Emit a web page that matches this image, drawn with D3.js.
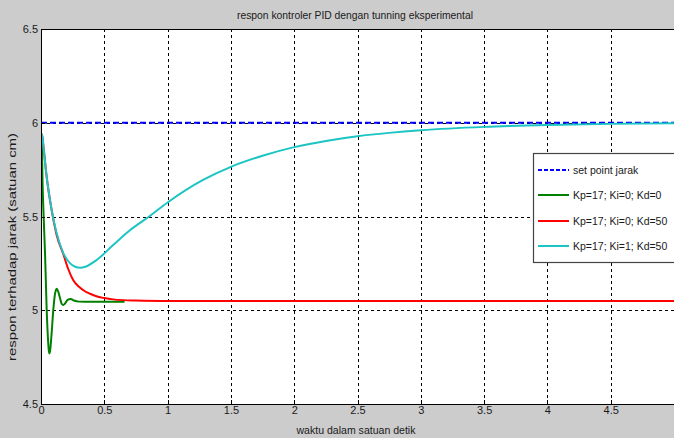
<!DOCTYPE html>
<html>
<head>
<meta charset="utf-8">
<script src="https://cdn.jsdelivr.net/npm/d3@7"></script>
<style>
  html, body { margin: 0; padding: 0; background: #cccccc; }
  svg { display: block; }
  text { font-family: "Liberation Sans", Arial, sans-serif; fill: #1a1a1a; }
</style>
</head>
<body>
<svg id="chart" width="674" height="438"></svg>
<script>
// ---------- data ----------
const titleText = "respon kontroler PID dengan tunning eksperimental";
const xLabelText = "waktu dalam satuan detik";
const yLabelText = "respon terhadap jarak (satuan cm)";

const xTicks = [0, 0.5, 1, 1.5, 2, 2.5, 3, 3.5, 4, 4.5];
const yTicks = [4.5, 5, 5.5, 6, 6.5];

const setPointT = [0, 5];
const setPointV = [6, 6];

const greenT = [0, 0.006, 0.013, 0.022, 0.032, 0.045, 0.055, 0.061, 0.066, 0.072, 0.082, 0.097, 0.11, 0.124, 0.136, 0.15, 0.163, 0.176, 0.19, 0.21, 0.235, 0.26, 0.3, 0.4, 0.66];
const greenV = [5.945, 5.9, 5.66, 5.48, 5.3, 5.0, 4.85, 4.79, 4.77, 4.785, 4.86, 5.0, 5.085, 5.115, 5.1, 5.065, 5.035, 5.028, 5.036, 5.055, 5.06, 5.052, 5.046, 5.045, 5.045];

const redT = [0, 0.01, 0.02, 0.045, 0.084, 0.124, 0.176, 0.215, 0.255, 0.3, 0.35, 0.387, 0.45, 0.5, 0.57, 0.65, 0.75, 0.95, 5];
const redV = [5.945, 5.93, 5.87, 5.71, 5.535, 5.40, 5.30, 5.22, 5.16, 5.125, 5.10, 5.088, 5.072, 5.065, 5.058, 5.054, 5.052, 5.05, 5.05];

const cyanT = [0, 0.01, 0.02, 0.045, 0.084, 0.124, 0.176, 0.23, 0.27, 0.308, 0.35, 0.44, 0.57, 0.7, 0.86, 1.0, 1.28, 1.5, 1.75, 2, 2.25, 2.5, 2.75, 3, 3.5, 4, 4.5, 5];
const cyanV = [5.945, 5.93, 5.87, 5.71, 5.535, 5.41, 5.305, 5.25, 5.232, 5.227, 5.232, 5.268, 5.348, 5.425, 5.503, 5.575, 5.695, 5.765, 5.824, 5.87, 5.903, 5.928, 5.946, 5.96, 5.978, 5.988, 5.994, 5.997];

const legendLabels = ["set point jarak", "Kp=17; Ki=0; Kd=0", "Kp=17; Ki=0; Kd=50", "Kp=17; Ki=1; Kd=50"];
const seriesColors = ["#0000ff", "#008000", "#ff0000", "#1cc4c4"];

// ---------- layout ----------
const svg = d3.select("#chart");
const W = 674, H = 438;
const pL = 41, pT = 29, pR = 674, pB = 404;

const x = d3.scaleLinear().domain([0, 5]).range([pL, pR]);
const y = d3.scaleLinear().domain([4.5, 6.5]).range([pB, pT]);

svg.append("rect").attr("width", W).attr("height", H).attr("fill", "#cccccc");
svg.append("rect").attr("x", pL).attr("y", pT).attr("width", pR - pL).attr("height", pB - pT).attr("fill", "#ffffff");

// grid
const grid = svg.append("g");
grid.selectAll(".vg").data(xTicks.filter(d => d > 0)).enter().append("line")
  .attr("x1", d => Math.round(x(d)) + 0.5).attr("x2", d => Math.round(x(d)) + 0.5)
  .attr("y1", pT).attr("y2", pB)
  .attr("stroke", "#000").attr("stroke-width", 1).attr("stroke-dasharray", "3,3");
grid.selectAll(".hg").data(yTicks.filter(d => d > 4.5 && d < 6.5)).enter().append("line")
  .attr("y1", d => Math.round(y(d)) + 0.5).attr("y2", d => Math.round(y(d)) + 0.5)
  .attr("x1", pL).attr("x2", pR)
  .attr("stroke", "#000").attr("stroke-width", 1).attr("stroke-dasharray", "3,3");

// series
svg.append("clipPath").attr("id", "clip").append("rect")
  .attr("x", pL).attr("y", pT).attr("width", pR - pL).attr("height", pB - pT);
const plot = svg.append("g").attr("clip-path", "url(#clip)");

function toPts(ts, vs) { return ts.map((t, i) => [t, vs[i]]); }
const line = d3.line().x(d => x(d[0])).y(d => y(d[1])).curve(d3.curveMonotoneX);

plot.append("path").attr("d", line(toPts(setPointT, setPointV)))
  .attr("fill", "none").attr("stroke", seriesColors[0]).attr("stroke-width", 2).attr("stroke-dasharray", "6,3");
plot.append("path").attr("d", line(toPts(greenT, greenV)))
  .attr("fill", "none").attr("stroke", seriesColors[1]).attr("stroke-width", 2);
plot.append("path").attr("d", line(toPts(redT, redV)))
  .attr("fill", "none").attr("stroke", seriesColors[2]).attr("stroke-width", 2);
plot.append("path").attr("d", line(toPts(cyanT, cyanV)))
  .attr("fill", "none").attr("stroke", seriesColors[3]).attr("stroke-width", 2);

// axes box
svg.append("line").attr("x1", pL).attr("x2", pR).attr("y1", pT + 0.5).attr("y2", pT + 0.5).attr("stroke", "#000");
svg.append("line").attr("x1", pL).attr("x2", pR).attr("y1", pB + 0.5).attr("y2", pB + 0.5).attr("stroke", "#000");
svg.append("line").attr("x1", pL + 0.5).attr("x2", pL + 0.5).attr("y1", pT).attr("y2", pB + 1).attr("stroke", "#000");

// axes via d3
const xAxis = d3.axisBottom(x).tickValues(xTicks).tickSize(0).tickPadding(2).tickFormat(d3.format("~g"));
const gx = svg.append("g").attr("transform", `translate(0,${pB})`).call(xAxis);
gx.select(".domain").remove();
gx.selectAll("text").attr("font-size", 11).attr("font-family", "Liberation Sans, Arial, sans-serif").attr("fill", "#1a1a1a");

const yAxis = d3.axisLeft(y).tickValues(yTicks).tickSize(0).tickPadding(3).tickFormat(d3.format("~g"));
const gy = svg.append("g").attr("transform", `translate(${pL},0)`).call(yAxis);
gy.select(".domain").remove();
gy.selectAll("text").attr("font-size", 11).attr("font-family", "Liberation Sans, Arial, sans-serif").attr("fill", "#1a1a1a");

// inward tick marks
svg.append("g").selectAll("line").data(xTicks.filter(d => d > 0)).enter().append("line")
  .attr("x1", d => Math.round(x(d)) + 0.5).attr("x2", d => Math.round(x(d)) + 0.5)
  .attr("y1", pB).attr("y2", pB - 4).attr("stroke", "#000");
svg.append("g").selectAll("line").data(yTicks.filter(d => d > 4.5 && d < 6.5)).enter().append("line")
  .attr("y1", d => Math.round(y(d)) + 0.5).attr("y2", d => Math.round(y(d)) + 0.5)
  .attr("x1", pL).attr("x2", pL + 4).attr("stroke", "#000");

// titles
svg.append("text").attr("x", 355).attr("y", 19).attr("text-anchor", "middle")
  .attr("font-size", 11).attr("textLength", 236).attr("lengthAdjust", "spacingAndGlyphs").text(titleText);
svg.append("text").attr("x", 356).attr("y", 434).attr("text-anchor", "middle")
  .attr("font-size", 11).attr("textLength", 119).attr("lengthAdjust", "spacingAndGlyphs").text(xLabelText);
svg.append("text").attr("transform", "translate(16,247) rotate(-90)").attr("text-anchor", "middle")
  .attr("font-size", 11.5).attr("textLength", 228).attr("lengthAdjust", "spacingAndGlyphs").text(yLabelText);

// legend
const lg = svg.append("g");
lg.append("rect").attr("x", 533.5).attr("y", 153.5).attr("width", 150).attr("height", 109)
  .attr("fill", "#ffffff").attr("stroke", "#444").attr("stroke-width", 1.2);
const legY = [170, 195, 221, 246];
legendLabels.forEach((lab, i) => {
  lg.append("line").attr("x1", 538).attr("x2", 569).attr("y1", legY[i]).attr("y2", legY[i])
    .attr("stroke", seriesColors[i]).attr("stroke-width", 2)
    .attr("stroke-dasharray", i === 0 ? "4,2" : null);
  lg.append("text").attr("x", 573).attr("y", legY[i] + 4).attr("font-size", 10.5).text(lab);
});
</script>
</body>
</html>
